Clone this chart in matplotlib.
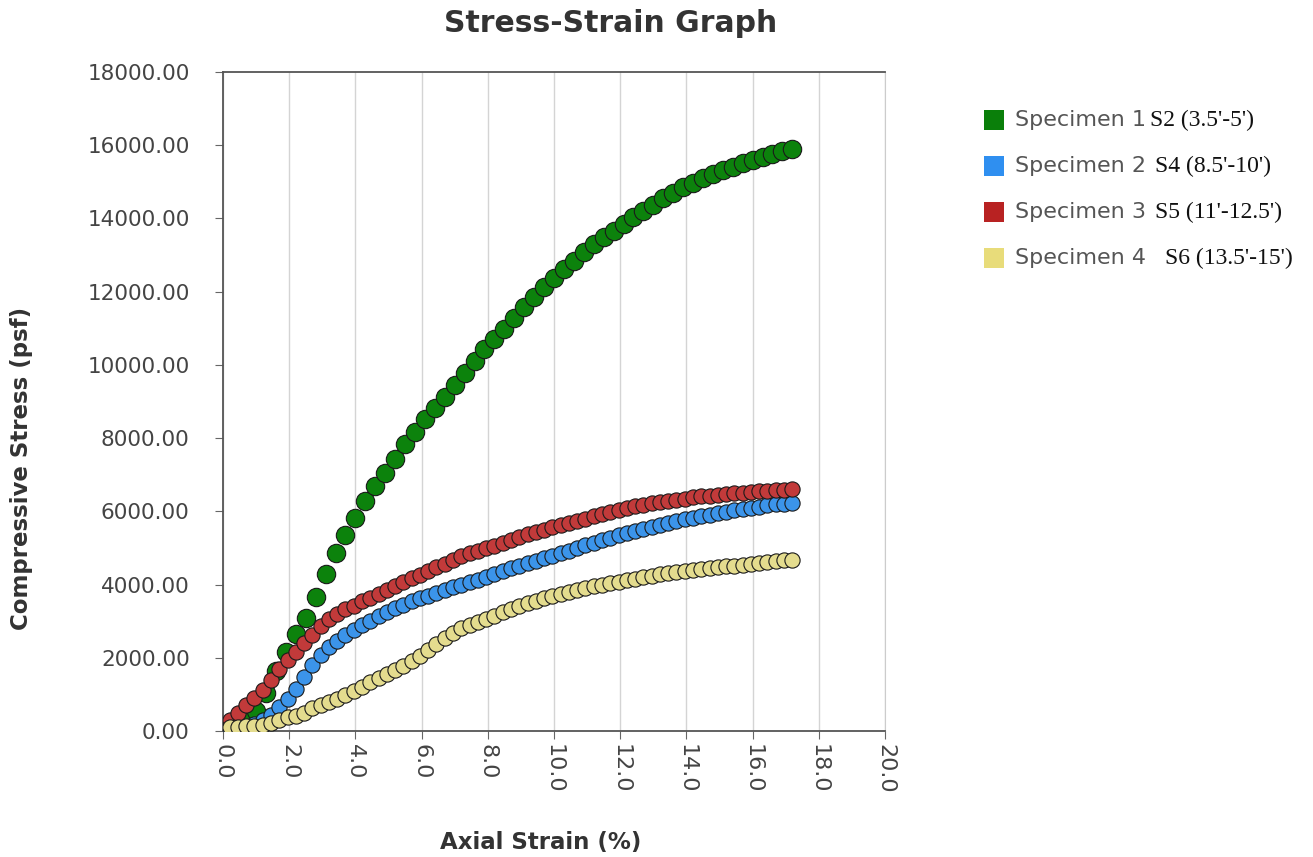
import matplotlib
matplotlib.use("Agg")
import matplotlib.pyplot as plt
from matplotlib.patches import Rectangle

# Specimen 1 sampled at its own strain values
strain_1 = [0.1, 0.4, 0.7, 1.0, 1.3, 1.6, 1.9, 2.2, 2.5, 2.8,
            3.1, 3.4, 3.7, 4.0, 4.3, 4.6, 4.9, 5.2, 5.5, 5.8,
            6.1, 6.4, 6.7, 7.0, 7.3, 7.6, 7.9, 8.2, 8.5, 8.8,
            9.1, 9.4, 9.7, 10.0, 10.3, 10.6, 10.9, 11.2, 11.5, 11.8,
            12.1, 12.4, 12.7, 13.0, 13.3, 13.6, 13.9, 14.2, 14.5, 14.8,
            15.1, 15.4, 15.7, 16.0, 16.3, 16.6, 16.9, 17.2]

specimen1 = [20, 80, 250, 550, 1050, 1650, 2150, 2650, 3100, 3650,
             4300, 4850, 5350, 5830, 6290, 6700, 7040, 7430, 7840, 8170,
             8520, 8830, 9130, 9440, 9790, 10100, 10430, 10700, 10990, 11290,
             11590, 11860, 12120, 12380, 12620, 12850, 13080, 13300, 13480, 13660,
             13850, 14040, 14210, 14380, 14550, 14700, 14850, 14970, 15100, 15210,
             15320, 15410, 15510, 15600, 15690, 15770, 15840, 15900]

# Specimens 2-4 share a denser strain sampling
strain_2_4 = [0.2, 0.45, 0.7, 0.95, 1.2, 1.45, 1.7, 1.95, 2.2, 2.45,
              2.7, 2.95, 3.2, 3.45, 3.7, 3.95, 4.2, 4.45, 4.7, 4.95,
              5.2, 5.45, 5.7, 5.95, 6.2, 6.45, 6.7, 6.95, 7.2, 7.45,
              7.7, 7.95, 8.2, 8.45, 8.7, 8.95, 9.2, 9.45, 9.7, 9.95,
              10.2, 10.45, 10.7, 10.95, 11.2, 11.45, 11.7, 11.95, 12.2, 12.45,
              12.7, 12.95, 13.2, 13.45, 13.7, 13.95, 14.2, 14.45, 14.7, 14.95,
              15.2, 15.45, 15.7, 15.95, 16.2, 16.45, 16.7, 16.95, 17.2]

specimen2 = [30, 60, 110, 190, 300, 450, 650, 880, 1150, 1480,
             1800, 2080, 2290, 2460, 2620, 2760, 2890, 3010, 3130, 3250,
             3360, 3450, 3540, 3620, 3700, 3780, 3850, 3920, 3990, 4060,
             4130, 4200, 4280, 4360, 4440, 4510, 4580, 4650, 4720, 4790,
             4860, 4930, 5000, 5070, 5140, 5210, 5280, 5340, 5400, 5460,
             5510, 5570, 5630, 5680, 5730, 5780, 5830, 5870, 5910, 5950,
             5990, 6030, 6070, 6100, 6130, 6160, 6190, 6210, 6235]

specimen3 = [300, 500, 700, 900, 1120, 1400, 1680, 1940, 2170, 2390,
             2620, 2860, 3060, 3200, 3320, 3420, 3540, 3640, 3740, 3850,
             3960, 4060, 4170, 4270, 4380, 4480, 4570, 4680, 4770, 4850,
             4920, 4990, 5060, 5140, 5220, 5300, 5370, 5430, 5490, 5560,
             5620, 5680, 5740, 5800, 5860, 5920, 5980, 6040, 6090, 6140,
             6180, 6220, 6260, 6290, 6320, 6350, 6380, 6410, 6430, 6450,
             6470, 6490, 6510, 6530, 6550, 6560, 6580, 6590, 6605]

specimen4 = [100, 120, 135, 150, 175, 210, 290, 370, 420, 500,
             620, 700, 780, 880, 990, 1100, 1210, 1330, 1440, 1560,
             1670, 1780, 1910, 2060, 2210, 2370, 2530, 2690, 2800, 2890,
             2980, 3060, 3150, 3240, 3330, 3420, 3490, 3560, 3630, 3690,
             3750, 3810, 3860, 3910, 3960, 4000, 4040, 4080, 4120, 4160,
             4200, 4240, 4280, 4310, 4340, 4370, 4400, 4430, 4460, 4480,
             4500, 4520, 4540, 4560, 4590, 4610, 4630, 4660, 4680]

series_names = ["Specimen 1", "Specimen 2", "Specimen 3", "Specimen 4"]
series_notes = ["S2 (3.5'-5')", "S4 (8.5'-10')", "S5 (11'-12.5')", "S6 (13.5'-15')"]
x_ticks = [0.0, 2.0, 4.0, 6.0, 8.0, 10.0, 12.0, 14.0, 16.0, 18.0, 20.0]
y_ticks = [0, 2000, 4000, 6000, 8000, 10000, 12000, 14000, 16000, 18000]

colors = ["#0c820c", "#3b94ea", "#c23a3a", "#e4dc8e"]
legend_colors = ["#0a7f0a", "#2f8ff0", "#b82222", "#e8dc7a"]
sizes = [175, 120, 120, 120]

fig = plt.figure(figsize=(13.13, 8.57), dpi=100)
ax = fig.add_axes([223/1313, 1-731/857, (885-223)/1313, (731-72)/857])

xs = [strain_1, strain_2_4, strain_2_4, strain_2_4]
data = [specimen1, specimen2, specimen3, specimen4]
for i in range(4):
    ax.scatter(xs[i], data[i], s=sizes[i], c=colors[i], edgecolors="#1a1a1a",
               linewidths=0.8, zorder=3 + i)

ax.set_xlim(0, 20)
ax.set_ylim(0, 18000)
ax.set_xticks(x_ticks)
ax.set_xticklabels([f"{v:.1f}" for v in x_ticks], rotation=-90, fontsize=16, color="#444444")
ax.set_yticks(y_ticks)
ax.set_yticklabels([f"{v:.2f}" for v in y_ticks], fontsize=15.5, color="#444444")
ax.tick_params(axis="x", length=6, color="#666666", pad=3)
ax.tick_params(axis="y", length=6, color="#666666", pad=18)
ax.grid(axis="x", color="#d4d4d4", linewidth=1)
ax.set_axisbelow(True)
for side in ["left", "bottom", "top"]:
    ax.spines[side].set_color("#555555")
    ax.spines[side].set_linewidth(1.3)
ax.spines["right"].set_color("#cccccc")

fig.text(541/1313, 1-843/857, "Axial Strain (%)", ha="center", va="center",
         fontsize=16.5, fontweight="bold", color="#333333")
fig.text(22/1313, 1-468/857, "Compressive Stress (psf)", ha="center", va="center",
         rotation=90, fontsize=16.5, fontweight="bold", color="#333333")

fig.text(611/1313, 1-23/857, "Stress-Strain Graph", ha="center", va="center",
         fontsize=21.5, fontweight="bold", color="#333333")

rows_y = [120, 166, 212, 258]
note_x = [1150, 1155, 1155, 1165]
for i in range(4):
    yc = 1 - rows_y[i]/857
    fig.patches.append(Rectangle((984/1313, yc - 10/857), 20/1313, 20/857,
                                 transform=fig.transFigure, facecolor=legend_colors[i],
                                 edgecolor="none"))
    fig.text(1015/1313, yc, series_names[i], ha="left", va="center", fontsize=16,
             color="#555555")
    fig.text(note_x[i]/1313, yc, series_notes[i], ha="left", va="center", fontsize=17,
             family="Liberation Serif", color="#111111")

fig.savefig("out.png", dpi=100)
